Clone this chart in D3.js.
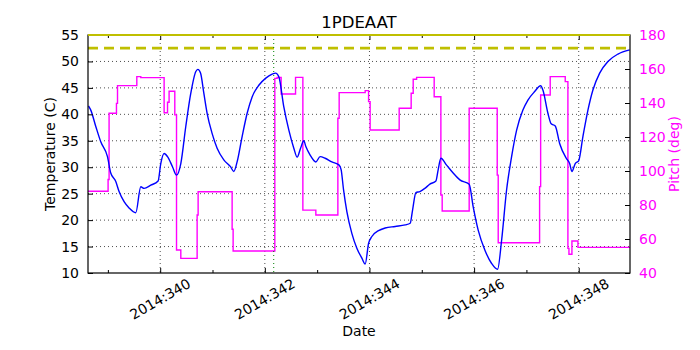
<!DOCTYPE html>
<html>
<head>
  <style>
    body {
      margin: 0;
      background: #fff;
    }
    svg text {
      font-family: "DejaVu Sans", sans-serif;
    }
  </style>
</head>
<body>
  <div id="chart"></div>

  <script src="https://d3js.org/d3.v7.min.js"></script>
  <script>
  // 2014 day-of-year (fractional)
  const tempTimes = [338.629, 338.673, 338.769, 338.864, 338.992, 339.055, 339.151, 339.214, 339.310, 339.405,
    339.533, 339.629, 339.692, 339.820, 339.960, 340.011, 340.075, 340.140, 340.235, 340.312,
    340.394, 340.489, 340.585, 340.681, 340.719, 340.771, 340.834, 340.897, 340.992, 341.088,
    341.216, 341.344, 341.407, 341.470, 341.566, 341.662, 341.757, 341.885, 342.013, 342.140,
    342.205, 342.268, 342.363, 342.459, 342.554, 342.618, 342.683, 342.746, 342.784, 342.866,
    342.975, 343.057, 343.153, 343.281, 343.421, 343.459, 343.505, 343.568, 343.663, 343.759,
    343.855, 343.918, 343.983, 344.046, 344.174, 344.300, 344.491, 344.683, 344.778, 344.824,
    344.887, 344.964, 345.059, 345.155, 345.270, 345.313, 345.365, 345.474, 345.600, 345.728,
    345.906, 345.983, 346.078, 346.207, 346.335, 346.449, 346.526, 346.621, 346.717, 346.813,
    346.933, 347.029, 347.157, 347.272, 347.315, 347.411, 347.474, 347.551, 347.635, 347.761,
    347.826, 347.870, 347.933, 347.998, 348.080, 348.176, 348.271, 348.400, 348.558, 348.750,
    348.973];
  const tempValues = [41.6, 40.8, 37.7, 34.8, 32.0, 28.9, 27.3, 25.4, 23.5, 22.3,
    21.4, 26.3, 26.0, 26.6, 27.4, 30.7, 32.6, 32.0, 30.1, 28.5,
    30.7, 37.7, 44.0, 48.1, 48.5, 47.8, 44.0, 40.2, 36.4, 33.6,
    31.4, 30.1, 29.2, 31.0, 35.8, 40.2, 43.3, 45.5, 46.8, 47.6,
    47.8, 47.1, 41.4, 37.0, 33.6, 31.9, 33.6, 35.0, 33.9, 32.3,
    31.0, 32.0, 31.7, 31.0, 30.4, 29.5, 25.7, 21.6, 17.5, 14.7,
    12.8, 11.7, 15.6, 16.9, 18.0, 18.5, 18.8, 19.1, 19.4, 21.9,
    25.2, 25.4, 26.0, 26.8, 27.4, 29.5, 31.7, 30.4, 28.9, 27.6,
    26.8, 22.5, 18.1, 14.3, 11.8, 10.7, 16.2, 25.7, 32.0, 37.0,
    40.8, 42.7, 44.3, 45.4, 44.6, 40.2, 38.2, 37.8, 34.5, 31.7,
    30.7, 29.2, 30.7, 31.2, 35.8, 40.8, 44.6, 47.8, 50.0, 51.4,
    52.2];

  // pitch holds each value from its time until the next one
  const pitchTimes = [338.616, 339.004, 339.023, 339.164, 339.184, 339.553, 339.629, 340.075, 340.140, 340.170,
    340.279, 340.312, 340.394, 340.706, 340.725, 341.375, 341.394, 342.191, 342.235, 342.312,
    342.587, 342.727, 342.975, 343.396, 343.421, 343.918, 343.983, 344.013, 344.568, 344.797,
    344.836, 344.901, 345.237, 345.365, 345.390, 345.906, 346.442, 346.461, 347.252, 347.272,
    347.455, 347.742, 347.793, 347.813, 347.870, 347.985, 348.980];
  const pitchValues = [88.1, 95.0, 134.0, 139.8, 150.2, 155.5, 154.9, 134.3, 140.4, 146.9,
    133.0, 53.5, 48.6, 74.1, 87.8, 65.7, 52.9, 154.5, 155.0, 145.3,
    155.1, 77.0, 74.1, 131.0, 146.1, 147.3, 140.8, 124.1, 136.9, 145.7,
    154.0, 155.1, 143.7, 85.9, 76.5, 136.9, 97.6, 57.8, 90.8, 144.7,
    155.5, 152.6, 54.5, 51.0, 58.8, 55.1, 55.1];

  const limitSolid = 55;
  const limitDashed = 52.5;
  const nowDay = 342.17;

  const xDomain = [338.62, 348.98];
  const xMajor = [340, 342, 344, 346, 348];
  const xMinor = [339, 341, 343, 345, 347];
  const xLabels = ["2014:340", "2014:342", "2014:344", "2014:346", "2014:348"];
  const tempTicks = [10, 15, 20, 25, 30, 35, 40, 45, 50, 55];
  const pitchTicks = [40, 60, 80, 100, 120, 140, 160, 180];

  const W = 700, H = 350;
  const margin = {top: 35, right: 70, bottom: 77, left: 88};
  const width = W - margin.left - margin.right,
        height = H - margin.top - margin.bottom;

  const svg = d3.select("#chart").append("svg")
      .attr("width", W)
      .attr("height", H);

  const g = svg.append("g")
      .attr("transform", "translate(" + margin.left + "," + margin.top + ")");

  const x = d3.scaleLinear().domain(xDomain).range([0, width]);
  const yT = d3.scaleLinear().domain([10, 55]).range([height, 0]);
  const yP = d3.scaleLinear().domain([40, 180]).range([height, 0]);

  // dotted grid
  g.append("g").selectAll("line").data(xMajor).join("line")
      .attr("x1", d => x(d)).attr("x2", d => x(d))
      .attr("y1", 0).attr("y2", height)
      .attr("stroke", "#000").attr("stroke-width", 0.7)
      .attr("stroke-dasharray", "1,3");
  g.append("g").selectAll("line").data(tempTicks.slice(1, -1)).join("line")
      .attr("x1", 0).attr("x2", width)
      .attr("y1", d => yT(d)).attr("y2", d => yT(d))
      .attr("stroke", "#000").attr("stroke-width", 0.7)
      .attr("stroke-dasharray", "1,3");

  const clip = g.append("clipPath").attr("id", "clip")
    .append("rect").attr("width", width).attr("height", height);
  const plot = g.append("g").attr("clip-path", "url(#clip)");

  // pitch
  const pitchLine = d3.line()
      .x(d => x(d[0]))
      .y(d => yP(d[1]))
      .curve(d3.curveStepAfter);
  plot.append("path")
      .datum(pitchTimes.map((t, i) => [t, pitchValues[i]]))
      .attr("fill", "none")
      .attr("stroke", "#ff00ff")
      .attr("stroke-width", 1.4)
      .attr("d", pitchLine);

  // temperature
  const tempLine = d3.line()
      .x(d => x(d[0]))
      .y(d => yT(d[1]))
      .curve(d3.curveMonotoneX);
  plot.append("path")
      .datum(tempTimes.map((t, i) => [t, tempValues[i]]))
      .attr("fill", "none")
      .attr("stroke", "#0000ff")
      .attr("stroke-width", 1.4)
      .attr("d", tempLine);

  // limits
  g.append("line")
      .attr("x1", 0).attr("x2", width)
      .attr("y1", yT(limitDashed)).attr("y2", yT(limitDashed))
      .attr("stroke", "#bfbf00").attr("stroke-width", 2.8)
      .attr("stroke-dasharray", "10,6");

  // now marker
  g.append("line")
      .attr("x1", x(nowDay)).attr("x2", x(nowDay))
      .attr("y1", 0).attr("y2", height)
      .attr("stroke", "#008000").attr("stroke-width", 1)
      .attr("stroke-dasharray", "1,3");

  // axes, ticks pointing inward
  g.append("g")
      .attr("transform", "translate(0," + height + ")")
      .call(d3.axisBottom(x).tickValues(xMajor).tickSize(-5).tickFormat(""));
  g.append("g")
      .attr("transform", "translate(0," + height + ")")
      .call(d3.axisBottom(x).tickValues(xMinor).tickSize(-3).tickFormat(""));
  g.append("g")
      .call(d3.axisTop(x).tickValues(xMajor).tickSize(-5).tickFormat(""));
  g.append("g")
      .call(d3.axisTop(x).tickValues(xMinor).tickSize(-3).tickFormat(""));

  const left = g.append("g")
      .call(d3.axisLeft(yT).tickValues(tempTicks).tickSize(-5).tickPadding(9));
  const right = g.append("g")
      .attr("transform", "translate(" + width + ",0)")
      .call(d3.axisRight(yP).tickValues(pitchTicks).tickSize(-5).tickPadding(9));

  g.selectAll(".domain").remove();
  g.selectAll(".tick line").attr("stroke", "#000");

  left.selectAll("text").attr("font-size", 14).attr("fill", "#000");
  right.selectAll("text").attr("font-size", 14).attr("fill", "#ff00ff");

  // rotated date labels
  g.append("g").selectAll("text").data(xMajor).join("text")
      .attr("transform", d => "translate(" + x(d) + "," + (height + 26) + ") rotate(-30)")
      .attr("text-anchor", "middle")
      .attr("dy", "0.35em")
      .attr("font-size", 14)
      .text((d, i) => xLabels[i]);

  // frame
  g.append("rect")
      .attr("width", width).attr("height", height)
      .attr("fill", "none").attr("stroke", "#000").attr("stroke-width", 1.2);
  g.append("line")
      .attr("x1", 0).attr("x2", width)
      .attr("y1", yT(limitSolid)).attr("y2", yT(limitSolid))
      .attr("stroke", "#bfbf00").attr("stroke-width", 2);

  // titles
  svg.append("text")
      .attr("x", margin.left + width / 2).attr("y", 28)
      .attr("text-anchor", "middle")
      .attr("font-size", 16.5)
      .text("1PDEAAT");
  svg.append("text")
      .attr("x", margin.left + width / 2).attr("y", 336)
      .attr("text-anchor", "middle")
      .attr("font-size", 14)
      .text("Date");
  svg.append("text")
      .attr("transform", "translate(55," + (margin.top + height / 2) + ") rotate(-90)")
      .attr("text-anchor", "middle")
      .attr("font-size", 14)
      .text("Temperature (C)");
  svg.append("text")
      .attr("transform", "translate(679," + (margin.top + height / 2) + ") rotate(-90)")
      .attr("text-anchor", "middle")
      .attr("font-size", 14)
      .attr("fill", "#ff00ff")
      .text("Pitch (deg)");
  </script>
</body>
</html>
